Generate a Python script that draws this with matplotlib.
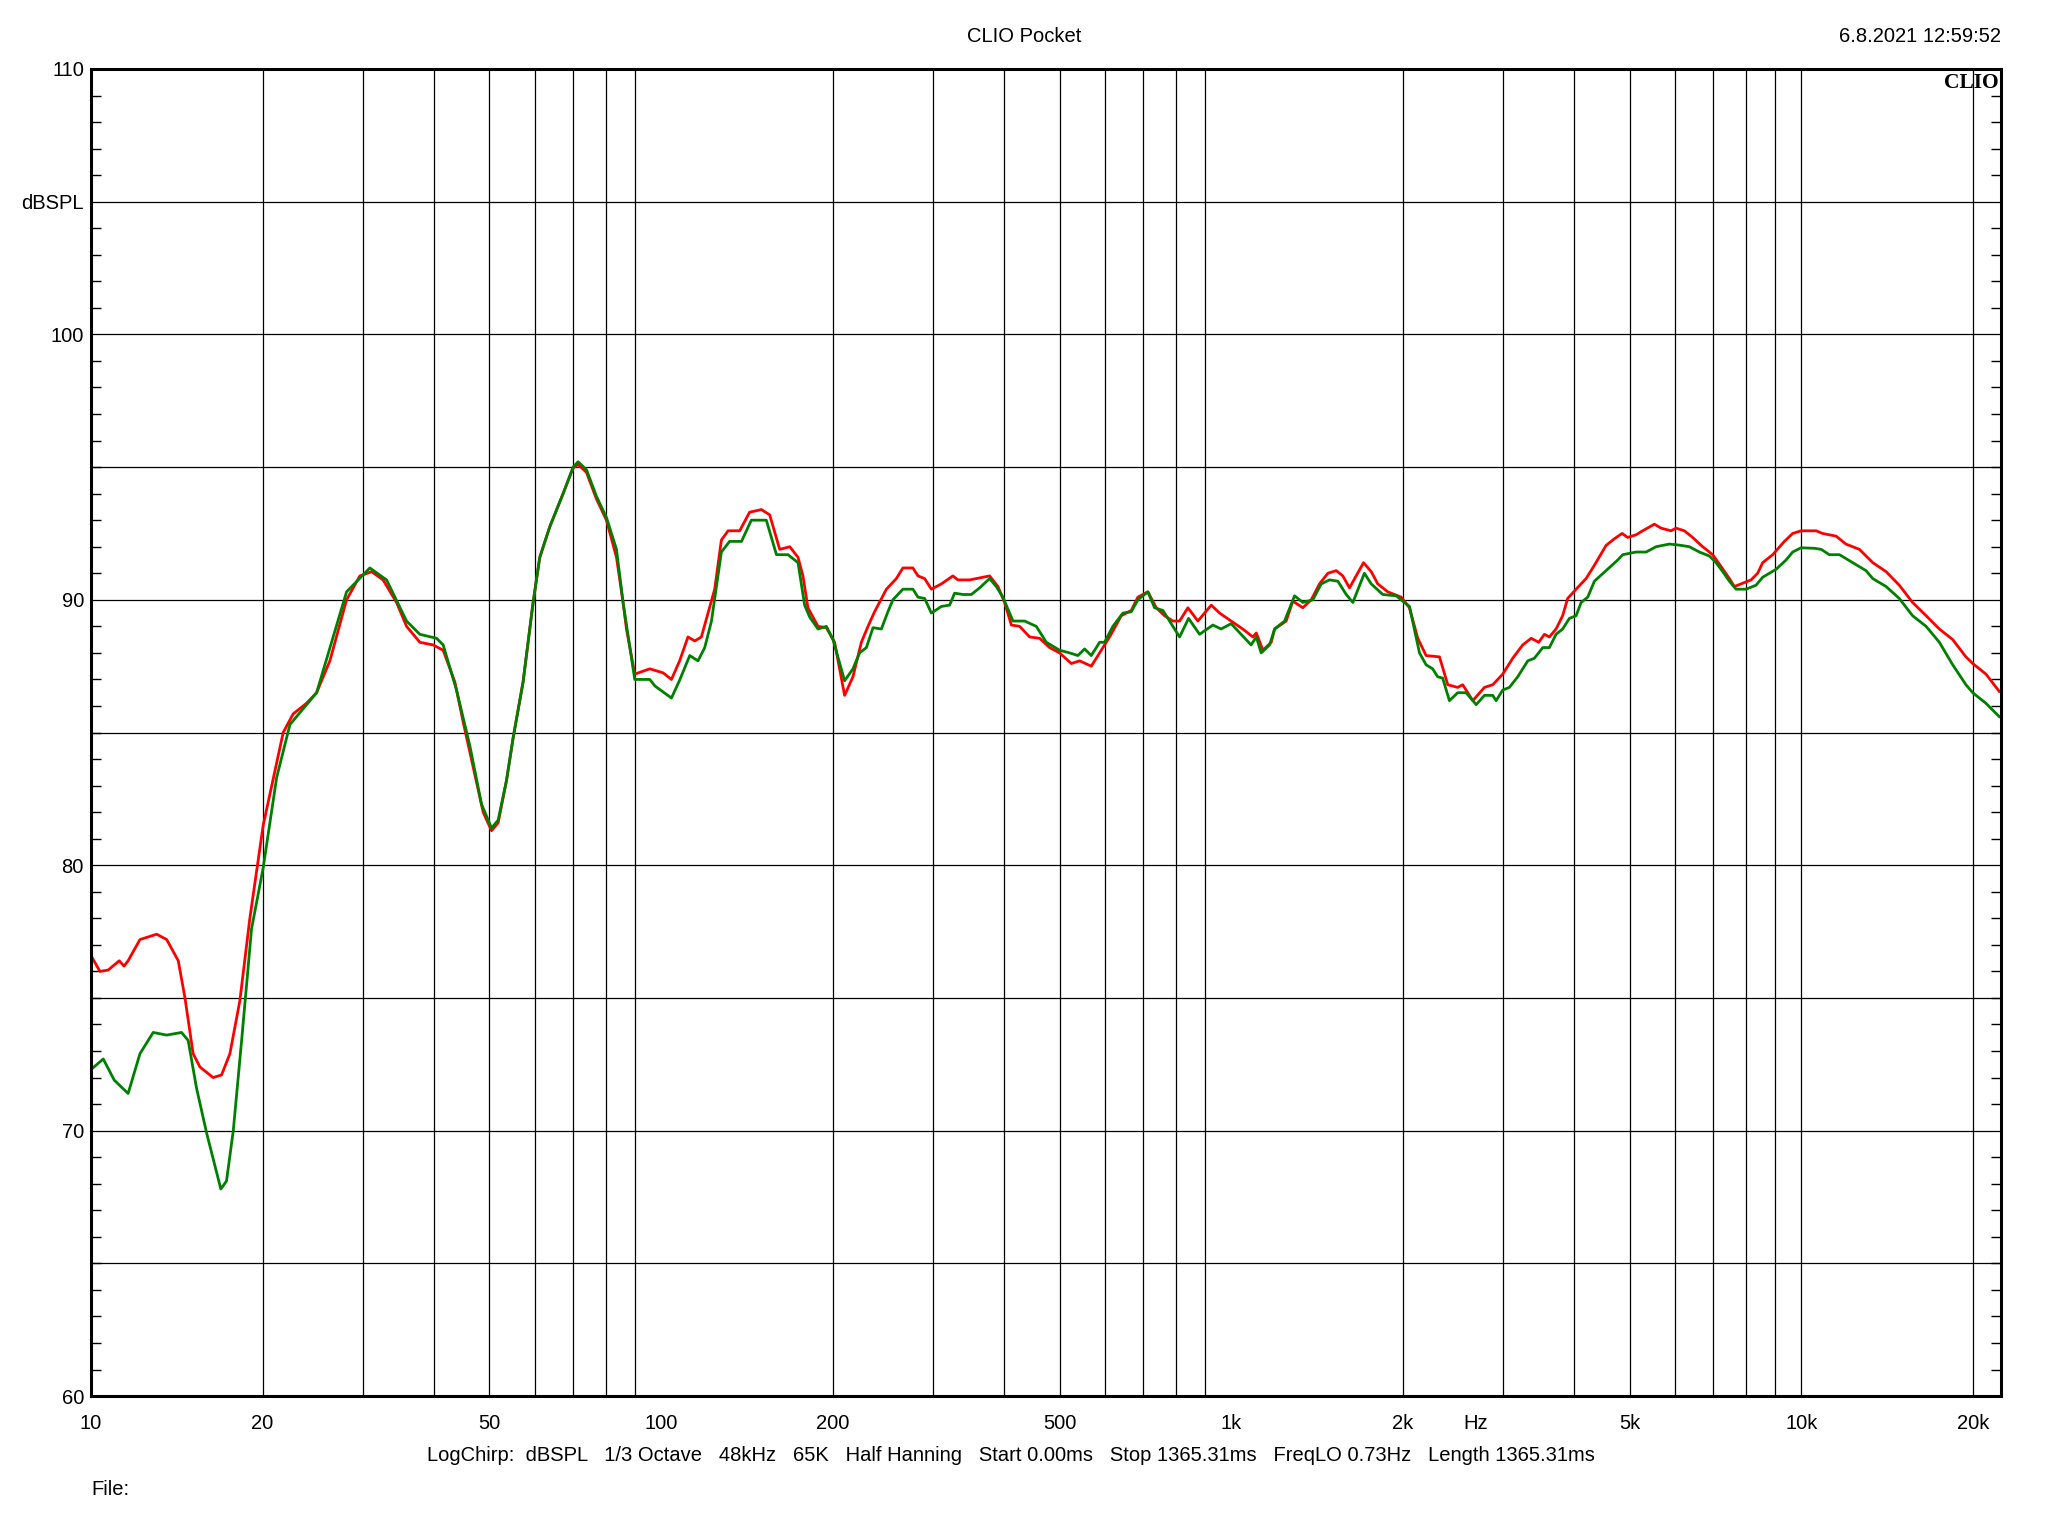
import matplotlib
matplotlib.use('Agg')
import matplotlib.pyplot as plt
from matplotlib.ticker import FixedLocator, NullFormatter, NullLocator

plt.rcParams['font.family'] = ['Liberation Sans', 'DejaVu Sans']

# red trace
red_freq = [10.0, 10.37, 10.72, 11.21, 11.43, 11.62, 12.19, 13.04, 13.58, 14.23, 14.62, 15.11, 15.53,
            16.38, 16.95, 17.53, 18.25, 19.0, 20.05, 21.74, 22.63, 23.88, 24.88, 26.25, 28.08, 29.63,
            31.07, 32.54, 34.36, 35.78, 37.75, 39.83, 41.48, 43.49, 44.97, 46.82, 48.75, 50.43, 51.8,
            53.58, 55.03, 57.28, 59.65, 61.28, 63.8, 67.33, 70.1, 71.53, 74.0, 77.04, 80.22, 83.53,
            85.79, 86.97, 89.93, 95.55, 100.8, 104.3, 107.8, 111.5, 114.6, 117.7, 120.9, 124.2, 127.6,
            131.1, 137.4, 143.0, 150.0, 155.1, 161.5, 168.2, 173.9, 177.4, 181.0, 188.5, 195.0, 201.6,
            209.9, 217.1, 224.6, 230.7, 236.9, 248.5, 258.7, 265.6, 276.6, 282.3, 290.0, 298.0, 310.3,
            325.1, 331.7, 347.8, 357.3, 377.0, 389.9, 400.6, 411.6, 425.6, 443.2, 461.4, 480.4, 500.2,
            524.4, 542.3, 568.5, 587.9, 612.1, 641.7, 668.1, 686.2, 714.4, 739.0, 764.3, 790.4, 812.1,
            839.8, 874.4, 922.8, 954.4, 1000, 1048, 1092, 1107, 1137, 1176, 1192, 1249, 1283, 1336,
            1382, 1429, 1478, 1529, 1570, 1613, 1657, 1707, 1761, 1808, 1883, 1988, 2055, 2125, 2198,
            2320, 2399, 2497, 2548, 2654, 2782, 2877, 2995, 3119, 3247, 3360, 3464, 3544, 3616, 3715,
            3815, 3893, 4028, 4194, 4337, 4547, 4702, 4851, 4961, 5132, 5271, 5526, 5677, 5911, 6032,
            6237, 6450, 6716, 6994, 7236, 7482, 7634, 7843, 8166, 8387, 8558, 8913, 9342, 9661, 9994,
            10620, 10900, 11510, 11980, 12650, 13350, 14090, 14860, 15680, 16560, 17470, 18440, 19450,
            19990, 21090, 22250]
red_db = [76.6, 76.0, 76.05, 76.4, 76.2, 76.4, 77.2, 77.4, 77.2, 76.4, 75.0, 72.9, 72.4,
          72.0, 72.1, 72.9, 74.9, 78.0, 81.5, 85.0, 85.7, 86.1, 86.5, 87.7, 90.0, 90.9,
          91.06, 90.75, 89.9, 89.0, 88.4, 88.3, 88.1, 86.9, 85.4, 83.7, 82.0, 81.3, 81.6,
          83.2, 84.8, 86.9, 89.9, 91.6, 92.75, 94.0, 94.96, 95.1, 94.8, 93.8, 93.0, 91.6,
          89.9, 88.9, 87.2, 87.4, 87.25, 87.0, 87.7, 88.6, 88.45, 88.6, 89.5, 90.4, 92.25,
          92.6, 92.6, 93.3, 93.4, 93.2, 91.9, 92.0, 91.6, 90.9, 89.7, 89.0, 88.95, 88.4,
          86.4, 87.1, 88.4, 89.0, 89.55, 90.4, 90.8, 91.2, 91.2, 90.9, 90.8, 90.4, 90.6,
          90.9, 90.75, 90.75, 90.8, 90.9, 90.5, 89.9, 89.05, 89.0, 88.6, 88.55, 88.2, 88.0,
          87.6, 87.7, 87.5, 88.0, 88.6, 89.4, 89.6, 90.1, 90.3, 89.7, 89.4, 89.2, 89.2,
          89.7, 89.2, 89.8, 89.5, 89.2, 88.9, 88.6, 88.75, 88.1, 88.4, 88.9, 89.2, 89.95, 89.7,
          90.0, 90.6, 91.0, 91.1, 90.9, 90.45, 90.9, 91.4, 91.06, 90.6, 90.3, 90.1, 89.7, 88.55, 87.9,
          87.85, 86.8, 86.7, 86.8, 86.2, 86.7, 86.8, 87.2, 87.8, 88.3, 88.55, 88.4, 88.7, 88.6, 88.9,
          89.4, 90.05, 90.4, 90.8, 91.3, 92.05, 92.3, 92.5, 92.35, 92.45, 92.6, 92.85, 92.7, 92.6, 92.7,
          92.6, 92.35, 92.0, 91.7, 91.25, 90.8, 90.5, 90.6, 90.75, 91.0, 91.4, 91.7, 92.2, 92.5, 92.6,
          92.6, 92.5, 92.4, 92.1, 91.9, 91.4, 91.06, 90.55, 89.9, 89.4, 88.9, 88.5, 87.85,
          87.6, 87.2, 86.55]

# green trace
green_freq = [10.0, 10.51, 10.99, 11.62, 12.19, 12.86, 13.58, 14.42, 14.81, 15.32, 15.96, 16.9, 17.29,
              17.77, 18.38, 19.13, 20.05, 21.17, 22.34, 24.88, 28.08, 30.85, 33.0, 35.78, 37.75, 40.39,
              41.48, 43.78, 46.2, 48.43, 50.43, 51.8, 53.58, 55.03, 57.28, 59.65, 61.28, 63.8, 67.33,
              70.1, 71.53, 74.0, 77.04, 80.22, 83.53, 85.79, 89.93, 95.55, 97.6, 104.3, 107.8, 112.3,
              116.1, 119.3, 122.6, 127.6, 131.9, 138.4, 144.0, 153.0, 159.4, 167.0, 173.9, 178.6, 182.3,
              188.5, 195.0, 200.3, 209.9, 217.1, 223.0, 229.2, 235.4, 243.5, 250.0, 255.1, 265.6, 276.6,
              282.3, 290.0, 298.0, 310.3, 320.8, 327.3, 338.4, 350.2, 362.2, 377.0, 387.3, 397.8, 414.3,
              434.3, 455.2, 474.0, 500.2, 520.8, 538.5, 553.3, 568.5, 587.9, 599.8, 620.3, 645.9, 668.1,
              686.2, 714.4, 734.1, 759.1, 779.8, 812.1, 842.1, 880.4, 929.0, 960.3, 1000, 1041, 1084,
              1107, 1129, 1168, 1192, 1241, 1292, 1336, 1391, 1439, 1488, 1539, 1592, 1635, 1713, 1761,
              1845, 1948, 2055, 2140, 2198, 2257, 2303, 2350, 2415, 2497, 2583, 2691, 2782, 2877, 2916,
              2995, 3077, 3182, 3314, 3404, 3521, 3616, 3715, 3815, 3920, 4028, 4111, 4222, 4337, 4547,
              4766, 4863, 5132, 5345, 5564, 5871, 6114, 6366, 6627, 6902, 7090, 7284, 7482, 7686, 8003,
              8332, 8558, 9036, 9406, 9661, 9994, 10550, 10840, 11200, 11670, 12310, 12990, 13350, 14090,
              14860, 15680, 16560, 17470, 18440, 19450, 19990, 21090, 22250]
green_db = [72.3, 72.7, 71.9, 71.4, 72.9, 73.7, 73.6, 73.7, 73.4, 71.6, 69.9, 67.8, 68.1,
            70.0, 73.4, 77.6, 79.9, 83.3, 85.3, 86.5, 90.3, 91.2, 90.75, 89.2, 88.7, 88.55,
            88.3, 86.6, 84.5, 82.3, 81.4, 81.7, 83.2, 84.8, 86.9, 89.9, 91.6, 92.75, 94.0,
            95.0, 95.2, 94.9, 93.9, 93.1, 91.9, 89.9, 87.0, 87.0, 86.75, 86.3, 86.97, 87.9,
            87.7, 88.2, 89.2, 91.8, 92.2, 92.2, 93.0, 93.0, 91.7, 91.7, 91.4, 89.8, 89.35,
            88.9, 89.0, 88.5, 86.95, 87.4, 88.0, 88.2, 88.95, 88.9, 89.55, 90.0, 90.4, 90.4,
            90.1, 90.05, 89.5, 89.75, 89.8, 90.25, 90.2, 90.2, 90.45, 90.8, 90.5, 90.1, 89.2,
            89.2, 89.0, 88.4, 88.1, 88.0, 87.9, 88.15, 87.9, 88.4, 88.4, 89.0, 89.5, 89.55,
            90.0, 90.3, 89.7, 89.6, 89.2, 88.6, 89.3, 88.7, 89.05, 88.9, 89.1, 88.7, 88.3,
            88.6, 88.0, 88.3, 88.9, 89.2, 90.15, 89.9, 90.0, 90.6, 90.75, 90.7, 90.2, 89.9, 91.0, 90.6,
            90.2, 90.15, 89.75, 88.0, 87.55, 87.4, 87.1, 87.05, 86.2, 86.5, 86.5, 86.05, 86.4, 86.4, 86.2,
            86.6, 86.7, 87.1, 87.7, 87.8, 88.2, 88.2, 88.7, 88.9, 89.3, 89.4, 89.9, 90.1, 90.7, 91.1,
            91.5, 91.7, 91.8, 91.8, 92.0, 92.1, 92.06, 92.0, 91.8, 91.65, 91.4, 91.06, 90.7, 90.4, 90.4,
            90.55, 90.85, 91.15, 91.5, 91.8, 91.96, 91.94, 91.9, 91.7, 91.7, 91.4, 91.1, 90.8, 90.5,
            90.05, 89.4, 89.0, 88.4, 87.55, 86.8, 86.5, 86.1, 85.6]

x_ticks = [10, 20, 50, 100, 200, 500, 1000, 2000, 2690, 5000, 10000, 20000]
x_labels = ['10', '20', '50', '100', '200', '500', '1k', '2k', 'Hz', '5k', '10k', '20k']
y_ticks = [60, 70, 80, 90, 100, 105, 110]
y_labels = ['60', '70', '80', '90', '100', 'dBSPL', '110']

fs = 14.5

fig = plt.figure(figsize=(20.48, 15.36), dpi=100)
ax = fig.add_axes([0.0444, 0.0911, 0.9326, 0.8640])

ax.plot(red_freq, red_db, c='#ff0000', linewidth=2.0)
ax.plot(green_freq, green_db, c='#008000', linewidth=2.0)

ax.set_xscale('log')
ax.set_xlim(10, 22400)
ax.set_ylim(60, 110)

# grid lines
vlines = [m * d for d in [10, 100, 1000] for m in range(2, 10)] + [10000, 20000]
for v in vlines:
    ax.axvline(v, color='black', linewidth=0.9, zorder=1)
for h in range(65, 110, 5):
    ax.axhline(h, color='black', linewidth=0.9, zorder=1)

ax.xaxis.set_major_locator(FixedLocator(x_ticks))
ax.xaxis.set_major_formatter(plt.FixedFormatter(x_labels))
ax.xaxis.set_minor_locator(NullLocator())
ax.tick_params(axis='x', which='major', length=0, pad=13, labelsize=fs)

ax.yaxis.set_major_locator(FixedLocator(y_ticks))
ax.yaxis.set_major_formatter(plt.FixedFormatter(y_labels))
ax.yaxis.set_minor_locator(FixedLocator(range(60, 111)))
ax.yaxis.set_minor_formatter(NullFormatter())
ax.tick_params(axis='y', which='major', length=0, pad=5, labelsize=fs)
ax.tick_params(axis='y', which='minor', direction='in', length=7, width=1.0, left=True, right=True)

for sp in ax.spines.values():
    sp.set_linewidth(2.2)

fig.text(0.5, 0.9765, 'CLIO Pocket', ha='center', va='center', fontsize=fs)
fig.text(0.977, 0.9765, '6.8.2021 12:59:52', ha='right', va='center', fontsize=fs)
ax.text(0.999, 0.997, 'CLIO', transform=ax.transAxes, ha='right', va='top', fontsize=15.5,
        fontweight='bold', family='Liberation Serif')

info = ('LogChirp:  dBSPL   1/3 Octave   48kHz   65K   Half Hanning   Start 0.00ms   '
        'Stop 1365.31ms   FreqLO 0.73Hz   Length 1365.31ms')
fig.text(0.4936, 0.0522, info, ha='center', va='center', fontsize=fs)
fig.text(0.0444, 0.0300, 'File:', ha='left', va='center', fontsize=fs)

fig.savefig('out.png', dpi=100)
